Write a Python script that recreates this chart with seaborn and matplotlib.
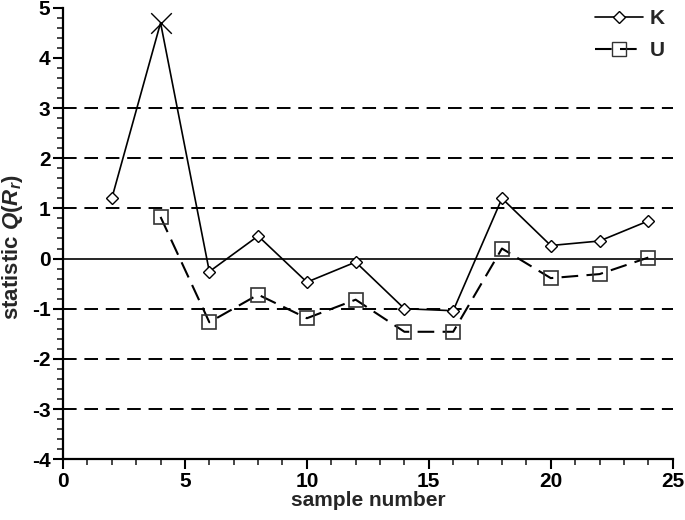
import numpy as np
import pandas as pd
import matplotlib
matplotlib.use("Agg")
import matplotlib.pyplot as plt
from matplotlib.lines import Line2D
from matplotlib.ticker import MultipleLocator
import seaborn as sns

# ── data ────────────────────────────────────────────────────
sample_k = [2, 4, 6, 8, 10, 12, 14, 16, 18, 20, 22, 24]
stat_k = [1.2, 4.7, -0.26, 0.45, -0.47, -0.07, -1.0, -1.04, 1.2, 0.26, 0.35, 0.75]
sample_u = [4, 6, 8, 10, 12, 14, 16, 18, 20, 22, 24]
stat_u = [0.83, -1.27, -0.72, -1.19, -0.82, -1.46, -1.46, 0.2, -0.39, -0.31, 0.02]
outlier_idx = [1]                      # K point drawn with a cross
dashed_levels = [-3, -2, -1, 1, 2, 3]
x_ticks = [0, 5, 10, 15, 20, 25]
y_ticks = [-4, -3, -2, -1, 0, 1, 2, 3, 4, 5]

sns.set_style("ticks")
plt.rcParams["font.family"] = ["Liberation Sans", "DejaVu Sans"]
plt.rcParams["font.weight"] = "bold"
plt.rcParams["axes.unicode_minus"] = False
plt.rcParams["mathtext.fontset"] = "custom"
plt.rcParams["mathtext.it"] = "Liberation Sans:italic"
plt.rcParams["mathtext.rm"] = "Liberation Sans"

df_k = pd.DataFrame({"x": sample_k, "y": stat_k})
df_u = pd.DataFrame({"x": sample_u, "y": stat_u})

fig = plt.figure(figsize=(6.85, 5.2), dpi=100)
ax = fig.add_axes([0.092, 0.117, 0.890, 0.868])

# reference lines
for lvl in dashed_levels:
    ax.axhline(lvl, color="black", lw=1.4, dashes=(7, 4), zorder=1)
ax.axhline(0, color="black", lw=1.2, zorder=1)

keep = [i for i in range(len(sample_k)) if i not in outlier_idx]
sns.lineplot(data=df_k, x="x", y="y", ax=ax, color="black", lw=1.2,
             marker="D", markersize=6.5, markerfacecolor="white",
             markeredgecolor="black", markeredgewidth=1.0,
             markevery=keep, zorder=3)
sns.scatterplot(data=df_k.iloc[outlier_idx], x="x", y="y", ax=ax,
                color="black", marker="x", s=220, linewidth=1.0, zorder=4)
sns.lineplot(data=df_u, x="x", y="y", ax=ax, color="black", lw=1.5,
             dashes=False, linestyle=(0, (8, 4)), marker="s", markersize=10,
             markerfacecolor="none", markeredgecolor="#333333",
             markeredgewidth=1.2, zorder=3)

ax.set_xlim(0, 25)
ax.set_ylim(-4, 5)
ax.set_xticks(x_ticks)
ax.set_yticks(y_ticks)
ax.xaxis.set_minor_locator(MultipleLocator(1))
ax.yaxis.set_minor_locator(MultipleLocator(0.2))
ax.tick_params(axis="both", which="major", direction="out", length=7,
               width=1.5, labelsize=15, colors="black", pad=2)
ax.tick_params(axis="both", which="minor", direction="out", length=4,
               width=1.2)
for lab in ax.get_xticklabels() + ax.get_yticklabels():
    lab.set_fontweight("bold")
sns.despine(ax=ax)
for sp in ["left", "bottom"]:
    ax.spines[sp].set_linewidth(1.6)
    ax.spines[sp].set_color("black")

ax.set_xlabel("sample number", fontsize=15, fontweight="bold", labelpad=0)
ax.set_ylabel(r"statistic $Q(R_r)$", fontsize=16, fontweight="bold")
ax.yaxis.set_label_coords(-0.062, 0.47)

handles = [
    Line2D([], [], color="black", lw=1.2, marker="D", markersize=6.5,
           markerfacecolor="white", markeredgecolor="black"),
    Line2D([], [], color="black", lw=1.5, linestyle=(0, (8, 4)), marker="s",
           markersize=10, markerfacecolor="none", markeredgecolor="#333333"),
]
leg = ax.legend(handles, ["K", "U"], loc="upper right", frameon=False,
                fontsize=15, handlelength=2.3, handletextpad=0.3,
                labelspacing=0.6, borderaxespad=0.0,
                bbox_to_anchor=(1.0, 1.015))
for t in leg.get_texts():
    t.set_fontweight("bold")

plt.savefig("out.png", dpi=100)
